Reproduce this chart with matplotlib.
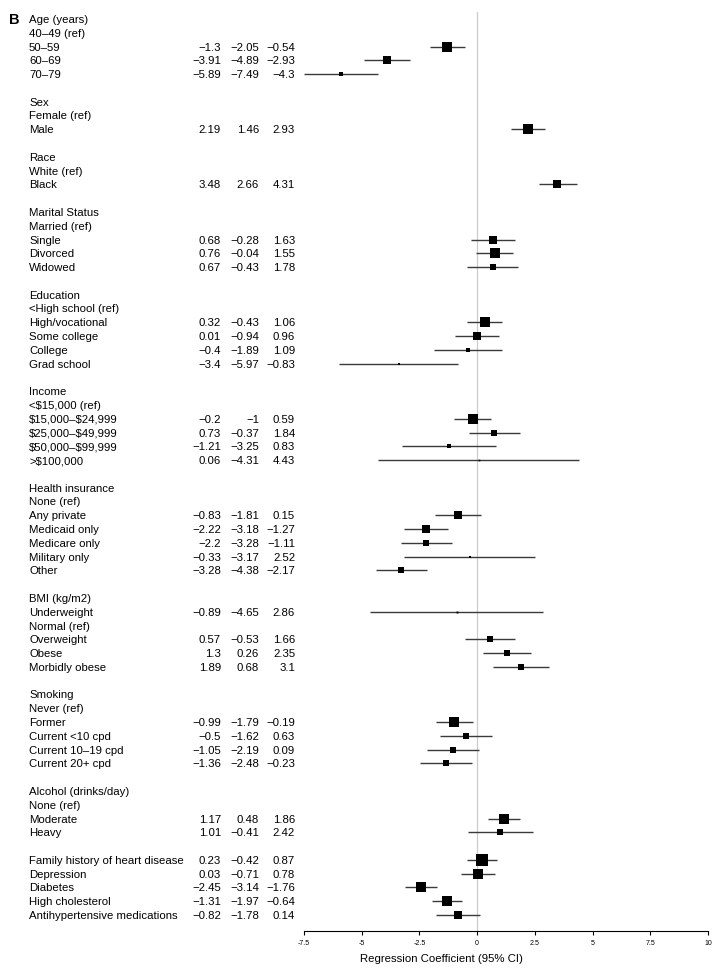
import numpy as np
import matplotlib
matplotlib.use("Agg")
import matplotlib.pyplot as plt
from matplotlib.transforms import blended_transform_factory

plt.rcParams['font.family'] = ['Liberation Sans', 'DejaVu Sans']

# Row labels (None = blank spacer row); est/lo/hi None for headers/refs
labels = [
    "Age (years)", "40–49 (ref)", "50–59", "60–69", "70–79", None,
    "Sex", "Female (ref)", "Male", None,
    "Race", "White (ref)", "Black", None,
    "Marital Status", "Married (ref)", "Single", "Divorced", "Widowed", None,
    "Education", "<High school (ref)", "High/vocational", "Some college", "College", "Grad school", None,
    "Income", "<$15,000 (ref)", "$15,000–$24,999", "$25,000–$49,999", "$50,000–$99,999", ">$100,000", None,
    "Health insurance", "None (ref)", "Any private", "Medicaid only", "Medicare only", "Military only", "Other", None,
    "BMI (kg/m2)", "Underweight", "Normal (ref)", "Overweight", "Obese", "Morbidly obese", None,
    "Smoking", "Never (ref)", "Former", "Current <10 cpd", "Current 10–19 cpd", "Current 20+ cpd", None,
    "Alcohol (drinks/day)", "None (ref)", "Moderate", "Heavy", None,
    "Family history of heart disease", "Depression", "Diabetes", "High cholesterol", "Antihypertensive medications",
]

N = None
estimates = [
    N, N, -1.3, -3.91, -5.89, N,
    N, N, 2.19, N,
    N, N, 3.48, N,
    N, N, 0.68, 0.76, 0.67, N,
    N, N, 0.32, 0.01, -0.4, -3.4, N,
    N, N, -0.2, 0.73, -1.21, 0.06, N,
    N, N, -0.83, -2.22, -2.2, -0.33, -3.28, N,
    N, -0.89, N, 0.57, 1.3, 1.89, N,
    N, N, -0.99, -0.5, -1.05, -1.36, N,
    N, N, 1.17, 1.01, N,
    0.23, 0.03, -2.45, -1.31, -0.82,
]
lower = [
    N, N, -2.05, -4.89, -7.49, N,
    N, N, 1.46, N,
    N, N, 2.66, N,
    N, N, -0.28, -0.04, -0.43, N,
    N, N, -0.43, -0.94, -1.89, -5.97, N,
    N, N, -1, -0.37, -3.25, -4.31, N,
    N, N, -1.81, -3.18, -3.28, -3.17, -4.38, N,
    N, -4.65, N, -0.53, 0.26, 0.68, N,
    N, N, -1.79, -1.62, -2.19, -2.48, N,
    N, N, 0.48, -0.41, N,
    -0.42, -0.71, -3.14, -1.97, -1.78,
]
upper = [
    N, N, -0.54, -2.93, -4.3, N,
    N, N, 2.93, N,
    N, N, 4.31, N,
    N, N, 1.63, 1.55, 1.78, N,
    N, N, 1.06, 0.96, 1.09, -0.83, N,
    N, N, 0.59, 1.84, 0.83, 4.43, N,
    N, N, 0.15, -1.27, -1.11, 2.52, -2.17, N,
    N, 2.86, N, 1.66, 2.35, 3.1, N,
    N, N, -0.19, 0.63, 0.09, -0.23, N,
    N, N, 1.86, 2.42, N,
    0.87, 0.78, -1.76, -0.64, 0.14,
]

xticks = [-7.5, -5, -2.5, 0, 2.5, 5, 7.5, 10]
xticklabels = ["-7.5", "-5", "-2.5", "0", "2.5", "5", "7.5", "10"]
xlabel = "Regression Coefficient (95% CI)"

W, H = 726, 978
fig = plt.figure(figsize=(W / 100, H / 100), dpi=100)

ax_left, ax_right = 304 / W, 708 / W
ax_top_px, ax_bot_px = 13, 932
ax = fig.add_axes([ax_left, 1 - ax_bot_px / H, ax_right - ax_left, (ax_bot_px - ax_top_px) / H])

nrows = len(labels)
row_px = (916 - 20) / (nrows - 1)
ax.set_ylim(nrows - 1 + (ax_bot_px - 916) / row_px, -(20 - ax_top_px) / row_px)
ax.set_xlim(-7.5, 10)

ax.axvline(0, color='#cccccc', lw=0.9, zorder=0)

def fmt(v):
    s = f"{v:.2f}".rstrip('0').rstrip('.')
    if s in ("-0", "0"):
        s = "0"
    return s.replace('-', '\u2212')

tr = blended_transform_factory(fig.transFigure, ax.transData)
fs = 8.2
for i, lab in enumerate(labels):
    if lab is None:
        continue
    ax.text(29 / W, i, lab, transform=tr, ha='left', va='center', fontsize=fs,
            clip_on=False, parse_math=False)
    e, lo, hi = estimates[i], lower[i], upper[i]
    if e is None:
        continue
    for xpx, v in zip((221, 259, 295), (e, lo, hi)):
        ax.text(xpx / W, i, fmt(v), transform=tr, ha='right', va='center', fontsize=fs,
                clip_on=False, parse_math=False)
    ax.plot([lo, hi], [i, i], color='#3a3a3a', lw=1.0, solid_capstyle='butt', zorder=2)
    side_px = 14.5 / (hi - lo)
    ax.plot([e], [i], marker='s', color='black', ms=side_px * 0.72, mew=0, zorder=3, linestyle='none')

fig.text(9 / W, 1 - 20 / H, "B", fontsize=10.5, fontweight='bold', ha='left', va='center')

for s in ('top', 'right', 'left'):
    ax.spines[s].set_visible(False)
ax.spines['bottom'].set_linewidth(0.8)
ax.set_yticks([])
ax.set_xticks(xticks)
ax.set_xticklabels(xticklabels, fontsize=5)
ax.tick_params(axis='x', length=3, width=0.8, pad=3)

fig.text(441 / W, 1 - 959 / H, xlabel, fontsize=fs, ha='center', va='center')

fig.savefig("out.png", dpi=100)
